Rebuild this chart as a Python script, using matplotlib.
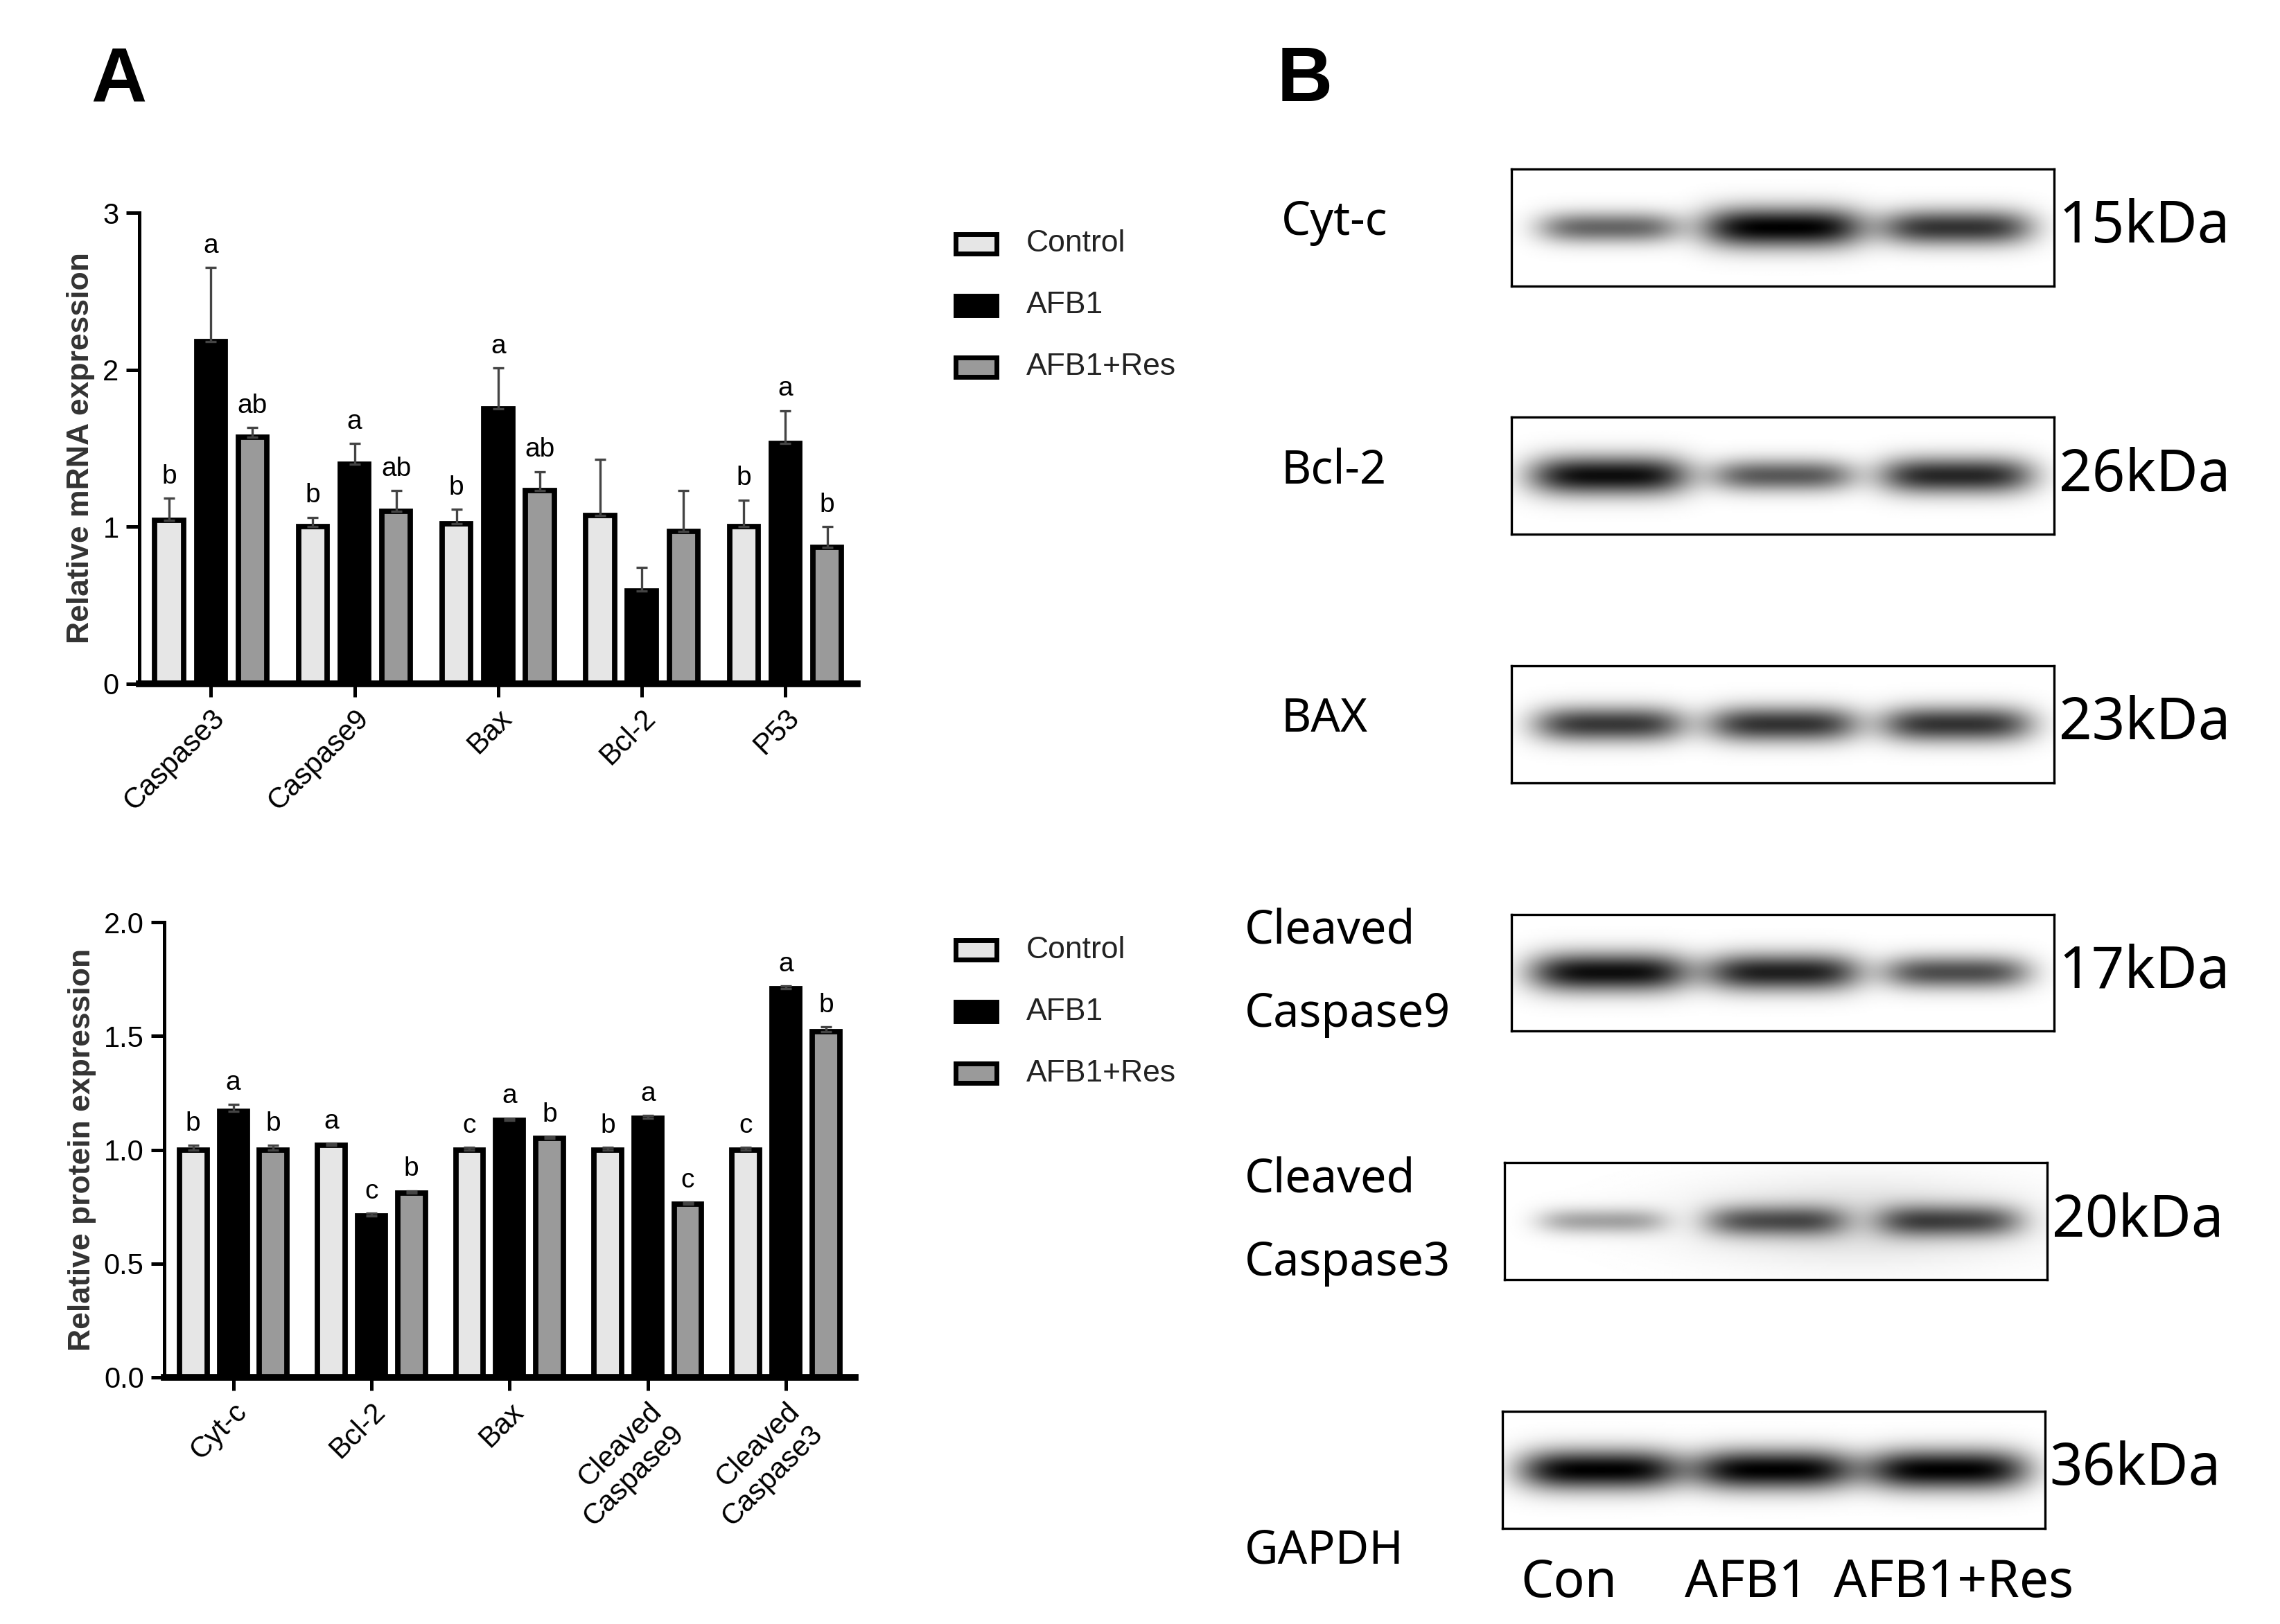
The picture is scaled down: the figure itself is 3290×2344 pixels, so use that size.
import numpy as np
import matplotlib.pyplot as plt
from matplotlib.patches import Rectangle

plt.rcParams['font.family'] = ['Liberation Sans', 'DejaVu Sans']

groups = ['Control', 'AFB1', 'AFB1+Res']
colors = ['#e6e6e6', '#000000', '#9a9a9a']

# mRNA panel
mrna_genes = ['Caspase3', 'Caspase9', 'Bax', 'Bcl-2', 'P53']
mrna_ctrl = [1.04, 1.00, 1.02, 1.07, 1.00]
mrna_afb1 = [2.18, 1.40, 1.75, 0.59, 1.53]
mrna_res = [1.57, 1.10, 1.23, 0.97, 0.87]
mrna_ctrl_err = [0.14, 0.06, 0.09, 0.36, 0.17]
mrna_afb1_err = [0.47, 0.13, 0.26, 0.15, 0.21]
mrna_res_err = [0.06, 0.13, 0.12, 0.26, 0.13]
mrna_ctrl_lbl = ['b', 'b', 'b', '', 'b']
mrna_afb1_lbl = ['a', 'a', 'a', '', 'a']
mrna_res_lbl = ['ab', 'ab', 'ab', '', 'b']

# protein panel
prot_names = ['Cyt-c', 'Bcl-2', 'Bax', 'Cleaved\nCaspase9', 'Cleaved\nCaspase3']
prot_ctrl = [1.00, 1.02, 1.00, 1.00, 1.00]
prot_afb1 = [1.17, 0.71, 1.13, 1.14, 1.71]
prot_res = [1.00, 0.81, 1.05, 0.76, 1.52]
prot_ctrl_err = [0.02, 0.01, 0.01, 0.01, 0.01]
prot_afb1_err = [0.03, 0.01, 0.01, 0.01, 0.01]
prot_res_err = [0.02, 0.01, 0.01, 0.01, 0.02]
prot_ctrl_lbl = ['b', 'a', 'c', 'b', 'c']
prot_afb1_lbl = ['a', 'c', 'a', 'a', 'a']
prot_res_lbl = ['b', 'b', 'b', 'c', 'b']

# western blot
blot_names = ['Cyt-c', 'Bcl-2', 'BAX', 'Cleaved\n\nCaspase9', 'Cleaved\n\nCaspase3', 'GAPDH']
blot_kda = ['15kDa', '26kDa', '23kDa', '17kDa', '20kDa', '36kDa']
band_strength = [[0.6, 1.0, 0.8], [0.95, 0.65, 0.85], [0.78, 0.8, 0.8],
                 [0.95, 0.88, 0.7], [0.35, 0.6, 0.65], [1.0, 1.0, 1.0]]
lanes = ['Con', 'AFB1', 'AFB1+Res']

fig = plt.figure(figsize=(16.45, 11.72), dpi=200)


def bar_panel(ax, names, vals, errs, lbls, ylim, yticks, ylabel, fmt):
    n = len(names)
    x = np.arange(n)
    w = 0.2
    offs = [-0.29, 0, 0.29]
    for k in range(3):
        ax.bar(x + offs[k], vals[k], w, color=colors[k], edgecolor='black', linewidth=2.8)
        ax.errorbar(x + offs[k], vals[k], yerr=[np.zeros(n), errs[k]], fmt='none',
                    ecolor='#444444', elinewidth=1.2, capsize=3, capthick=1.2)
        for i in range(n):
            if lbls[k][i]:
                ax.text(x[i] + offs[k], vals[k][i] + errs[k][i] + ylim[1] * 0.02, lbls[k][i],
                        ha='center', va='bottom', fontsize=14)
    ax.set_ylim(*ylim)
    ax.set_xlim(-0.5, n - 0.5)
    ax.set_yticks(yticks)
    ax.set_yticklabels([fmt % t for t in yticks], fontsize=15)
    ax.set_xticks(x)
    ax.set_xticklabels(names, rotation=45, ha='right', rotation_mode='anchor', fontsize=15)
    ax.set_ylabel(ylabel, fontsize=16, fontweight='bold', color='#333333')
    for s in ['top', 'right']:
        ax.spines[s].set_visible(False)
    ax.spines['left'].set_linewidth(1.8)
    ax.spines['bottom'].set_linewidth(3.5)
    ax.tick_params(width=1.8, length=7)


ax1 = fig.add_axes([0.061, 0.579, 0.315, 0.29])
bar_panel(ax1, mrna_genes, [mrna_ctrl, mrna_afb1, mrna_res],
          [mrna_ctrl_err, mrna_afb1_err, mrna_res_err],
          [mrna_ctrl_lbl, mrna_afb1_lbl, mrna_res_lbl],
          (0, 3), [0, 1, 2, 3], 'Relative mRNA expression', '%d')

ax2 = fig.add_axes([0.072, 0.152, 0.303, 0.28])
bar_panel(ax2, prot_names, [prot_ctrl, prot_afb1, prot_res],
          [prot_ctrl_err, prot_afb1_err, prot_res_err],
          [prot_ctrl_lbl, prot_afb1_lbl, prot_res_lbl],
          (0, 2.0), [0, 0.5, 1.0, 1.5, 2.0], 'Relative protein expression', '%.1f')

for ytop in [0.85, 0.415]:
    for k, g in enumerate(groups):
        y = ytop - k * 0.038
        fig.patches.append(Rectangle((0.419, y - 0.006), 0.018, 0.012, transform=fig.transFigure,
                                     facecolor=colors[k], edgecolor='black', linewidth=2.5))
        fig.text(0.45, y, g, fontsize=16, va='center', color='#222222')

fig.text(0.040, 0.95, 'A', fontsize=40, fontweight='bold', va='center')
fig.text(0.560, 0.95, 'B', fontsize=40, fontweight='bold', va='center')

# blot boxes (figure fractions)
box_x = [0.663, 0.663, 0.663, 0.663, 0.660, 0.659]
box_w = [0.238, 0.238, 0.238, 0.238, 0.238, 0.238]
box_top = [0.896, 0.743, 0.590, 0.437, 0.284, 0.131]
box_h = 0.072
xx = np.linspace(0, 1, 400)
yy = np.linspace(-1, 1, 80)
X, Y = np.meshgrid(xx, yy)
centers = [0.18, 0.5, 0.82]
for j in range(6):
    bax = fig.add_axes([box_x[j], box_top[j] - box_h, box_w[j], box_h])
    img = np.zeros_like(X)
    for c, s in zip(centers, band_strength[j]):
        wx = 0.10 + 0.05 * s
        wy = 0.15 + 0.2 * s
        img += s * np.exp(-((X - c) / wx) ** 4 - (Y / wy) ** 2)
    if j == 4:
        img += 0.15 * np.exp(-((X - 0.65) / 0.3) ** 2 - (Y / 0.7) ** 2)
    bax.imshow(np.clip(img, 0, 1), cmap='gray_r', vmin=0, vmax=1.0, aspect='auto',
               extent=[0, 1, -1, 1], interpolation='bilinear')
    bax.set_xticks([])
    bax.set_yticks([])
    for s in bax.spines.values():
        s.set_linewidth(1.2)
    yc = box_top[j] - box_h / 2
    fig.text(box_x[j] + box_w[j] + 0.002, yc, blot_kda[j], fontsize=30, va='center',
             family=['Noto Sans', 'DejaVu Sans'])
    if j < 3:
        fig.text(0.562, yc + 0.003, blot_names[j], fontsize=24, va='center',
                 family=['Noto Sans', 'DejaVu Sans'])
    elif j < 5:
        fig.text(0.546, yc, blot_names[j], fontsize=24, va='center', linespacing=0.85,
                 family=['Noto Sans', 'DejaVu Sans'])
    else:
        fig.text(0.546, yc - 0.05, blot_names[j], fontsize=24, va='center',
                 family=['Noto Sans', 'DejaVu Sans'])

for c, name in zip([0.688, 0.766, 0.857], lanes):
    fig.text(c, 0.025, name, fontsize=27, ha='center', va='center',
             family=['Noto Sans', 'DejaVu Sans'])

fig.savefig('out.png', dpi=200, facecolor='white')
